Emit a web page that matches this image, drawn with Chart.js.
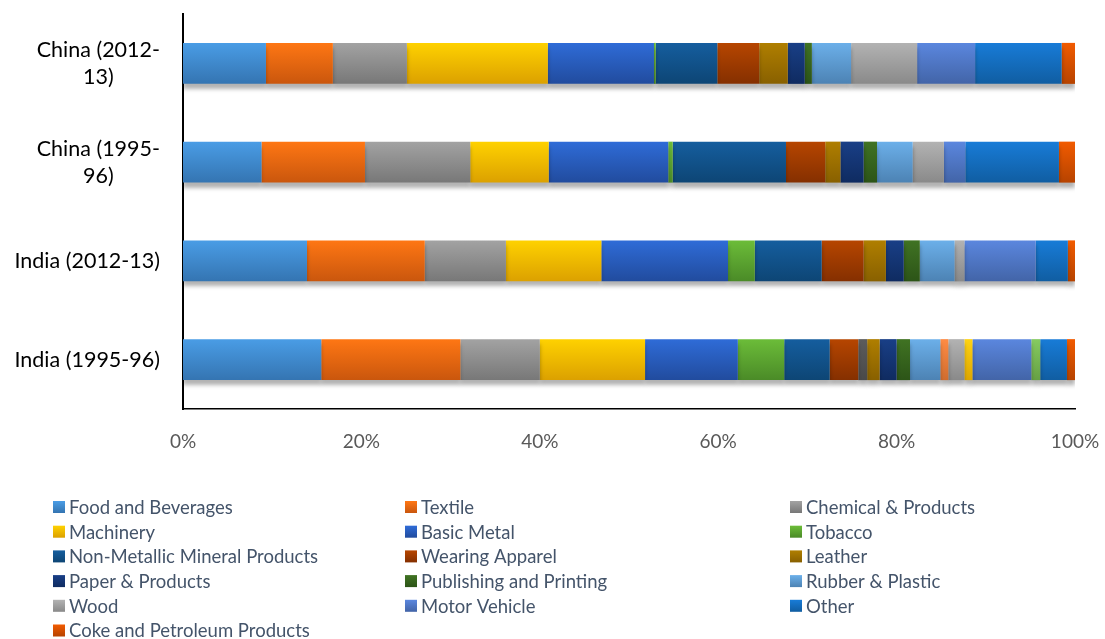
<!DOCTYPE html>
<html>
<head>
<meta charset="utf-8">
<title>Industry shares</title>
<script src="https://cdn.jsdelivr.net/npm/chart.js@4.4.1/dist/chart.umd.min.js"></script>
<style>
  html, body { margin: 0; padding: 0; background: #fff; }
  #wrap { width: 1105px; height: 639px; }
</style>
</head>
<body>
<div id="wrap"><canvas id="shareChart" width="1105" height="639"></canvas></div>
<script>
// rows, top to bottom
const categories = ["China (2012-13)", "China (1995-96)", "India (2012-13)", "India (1995-96)"]
// how each row label wraps
const categoryLines = [["China (2012-", "13)"], ["China (1995-", "96)"], ["India (2012-13)"], ["India (1995-96)"]]

const xTicks = [0, 20, 40, 60, 80, 100]

// share of each industry, % (same order as categories)
const foodBeverages   = [9.3, 8.8, 13.9, 15.5]
const textile         = [7.5, 11.6, 13.2, 15.6]
const chemical        = [8.3, 11.8, 9.1, 8.9]
const machinery       = [15.8, 8.8, 10.7, 11.8]
const basicMetal      = [11.9, 13.4, 14.2, 10.4]
const tobacco         = [0.2, 0.5, 3.0, 5.2]
const nonMetallic     = [6.9, 12.7, 7.5, 5.1]
const wearingApparel  = [4.7, 4.4, 4.7, 3.2]
const series9         = [0, 0, 0, 1.0]
const leather         = [3.2, 1.7, 2.5, 1.4]
const paper           = [1.9, 2.6, 2.0, 1.9]
const publishing      = [0.8, 1.5, 1.8, 1.5]
const rubberPlastic   = [4.4, 4.0, 3.9, 3.4]
const series14        = [0, 0, 0, 0.9]
const wood            = [7.4, 3.5, 1.1, 1.8]
const series16        = [0, 0, 0, 0.9]
const motorVehicle    = [6.5, 2.4, 8.0, 6.6]
const series18        = [0, 0, 0, 1.0]
const other           = [9.7, 10.5, 3.6, 3.0]
const cokePetroleum   = [1.5, 1.8, 0.8, 0.9]

// [label, values, top colour, bottom colour, shown in legend]
const seriesList = [
  ["Food and Beverages", foodBeverages, "#4a9de6", "#3474b1", true],
  ["Textile", textile, "#ff7714", "#c9560d", true],
  ["Chemical & Products", chemical, "#a3a3a3", "#777777", true],
  ["Machinery", machinery, "#ffd200", "#dba000", true],
  ["Basic Metal", basicMetal, "#2f6cd8", "#214b9d", true],
  ["Tobacco", tobacco, "#6cbd39", "#4a8a27", true],
  ["Non-Metallic Mineral Products", nonMetallic, "#155e9f", "#0d4574", true],
  ["Wearing Apparel", wearingApparel, "#b74600", "#842f00", true],
  ["Series 9", series9, "#5c5c5c", "#494949", false],
  ["Leather", leather, "#b07f00", "#886000", true],
  ["Paper & Products", paper, "#193f87", "#0f2b60", true],
  ["Publishing and Printing", publishing, "#407323", "#2c5417", true],
  ["Rubber & Plastic", rubberPlastic, "#6cb0ea", "#4c82b3", true],
  ["Series 14", series14, "#ff8c45", "#cf6c2e", false],
  ["Wood", wood, "#b3b3b3", "#898989", true],
  ["Series 16", series16, "#ffd414", "#dea600", false],
  ["Motor Vehicle", motorVehicle, "#5b87df", "#4264a7", true],
  ["Series 18", series18, "#86cb61", "#66a043", false],
  ["Other", other, "#187cd8", "#105da1", true],
  ["Coke and Petroleum Products", cokePetroleum, "#f25b00", "#b64300", true]
]

const BAR_HALF = 21

function barFill(top, bottom) {
  return ctx => {
    const chart = ctx.chart
    if (!chart.chartArea || ctx.dataIndex === undefined) return bottom
    const y = chart.scales.y.getPixelForValue(ctx.dataIndex)
    const g = chart.ctx.createLinearGradient(0, y - BAR_HALF, 0, y + BAR_HALF)
    g.addColorStop(0, top)
    g.addColorStop(1, bottom)
    return g
  }
}

// soft drop shadow under the bars
const barShadow = {
  id: "barShadow",
  beforeDatasetsDraw(chart) {
    const c = chart.ctx
    c.save()
    c.shadowColor = "rgba(0,0,0,0.30)"
    c.shadowOffsetY = 5
    c.shadowBlur = 4
  },
  afterDatasetsDraw(chart) {
    chart.ctx.restore()
  }
}

// row labels: block right-aligned, wrapped lines centred inside it
const rowLabels = {
  id: "rowLabels",
  afterDraw(chart) {
    const c = chart.ctx
    const yScale = chart.scales.y
    const right = chart.chartArea.left - 23
    const lineH = 27
    c.save()
    c.font = "21.5px Lato"
    c.fillStyle = "#000"
    c.textAlign = "center"
    c.textBaseline = "middle"
    categoryLines.forEach((lines, i) => {
      const blockW = Math.max(...lines.map(l => c.measureText(l).width))
      const cx = right - blockW / 2
      const yc = yScale.getPixelForValue(i)
      const y0 = yc - (lines.length - 1) * lineH / 2
      lines.forEach((l, j) => c.fillText(l, cx, y0 + j * lineH))
    })
    c.restore()
  }
}

// three-column legend below the axis
const gridLegend = {
  id: "gridLegend",
  afterDraw(chart) {
    const c = chart.ctx
    const colX = [53, 405, 790]
    const top = 507
    const rowH = 24.7
    const box = 12
    const items = chart.data.datasets.filter(d => d.inLegend)
    c.save()
    c.font = "18.5px Lato"
    c.textBaseline = "middle"
    items.forEach((d, i) => {
      const x = colX[i % 3]
      const y = top + Math.floor(i / 3) * rowH
      const g = c.createLinearGradient(0, y - box / 2, 0, y + box / 2)
      g.addColorStop(0, d.topColor)
      g.addColorStop(1, d.bottomColor)
      c.fillStyle = g
      c.fillRect(x, y - box / 2, box, box)
      c.fillStyle = "#44546a"
      c.fillText(d.label, x + 16, y + 1)
    })
    c.restore()
  }
}

const datasets = seriesList.map(([label, values, top, bottom, shown]) => ({
  label: label,
  data: values,
  backgroundColor: barFill(top, bottom),
  borderWidth: 0,
  topColor: top,
  bottomColor: bottom,
  inLegend: shown,
  barPercentage: 0.83,
  categoryPercentage: 0.5
}))

const chart = new Chart(document.getElementById("shareChart").getContext("2d"), {
  type: "bar",
  data: { labels: categories, datasets: datasets },
  plugins: [barShadow, rowLabels, gridLegend],
  options: {
    indexAxis: "y",
    responsive: false,
    animation: false,
    layout: { padding: { top: 14, right: 30, left: 0, bottom: 0 } },
    plugins: {
      legend: { display: false },
      tooltip: { enabled: false }
    },
    scales: {
      x: {
        stacked: true,
        min: 0,
        max: 100,
        afterFit: s => {
          s.height = 230
          s.paddingLeft = 0
          s.paddingRight = 0
        },
        afterBuildTicks: s => { s.ticks = xTicks.map(v => ({ value: v })) },
        grid: { display: false, drawTicks: false },
        border: { display: true, color: "#000", width: 1.5 },
        ticks: {
          padding: 21,
          color: "#595959",
          font: { family: "Lato", size: 19 },
          maxRotation: 0,
          callback: v => v + "%"
        }
      },
      y: {
        stacked: true,
        afterFit: s => {
          s.width = 183
          s.paddingTop = 0
          s.paddingBottom = 0
        },
        grid: { display: false, drawTicks: false },
        border: { display: true, color: "#000", width: 2 },
        ticks: { display: false }
      }
    }
  }
})
</script>
</body>
</html>
